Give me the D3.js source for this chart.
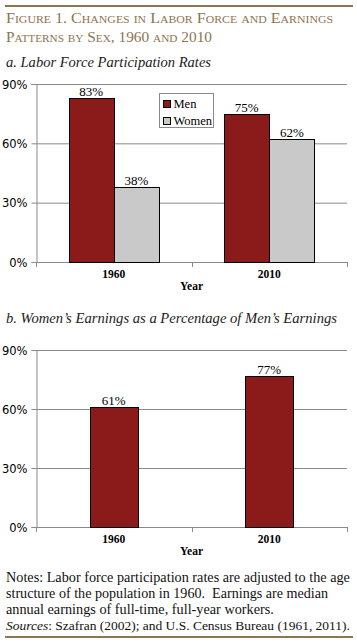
<!DOCTYPE html>
<html><head><meta charset="utf-8">
<script src="https://cdn.jsdelivr.net/npm/d3@7"></script>
<style>body{margin:0;background:#fff}svg{display:block}</style>
</head><body>
<svg id="c" width="357" height="642"></svg>
<script>
// ---- data ----
const years = ["1960", "2010"];
const series = ["Men", "Women"];
const menLFPR = [83, 75];
const womenLFPR = [38, 62];
const earningsRatio = [61, 77];
const yTicks = [0, 30, 60, 90];
const titleLines = ["Figure 1. Changes in Labor Force and Earnings", "Patterns by Sex, 1960 and 2010"];
const subA = "a. Labor Force Participation Rates";
const subB = "b. Women’s Earnings as a Percentage of Men’s Earnings";
const notes = [
  "Notes: Labor force participation rates are adjusted to the age",
  "structure of the population in 1960.  Earnings are median",
  "annual earnings of full-time, full-year workers."
];
const sourcesLabel = "Sources";
const sourcesText = ": Szafran (2002); and U.S. Census Bureau (1961, 2011).";

const svg = d3.select("#c");
const colors = {Men: "#8b1a1a", Women: "#c9c9c9"};
const titleColor = "#8c7550";
const serif = "'Liberation Serif', 'Times New Roman', serif";
const sans = "'DejaVu Sans', Tahoma, sans-serif";

// fit a text element to a target width by scaling its font size
function fit(sel, width) {
  const fs = +sel.attr("font-size");
  const w = sel.node().getComputedTextLength();
  if (w > 0) sel.attr("font-size", (fs * width / w).toFixed(2));
  return sel;
}

// rules
svg.append("line").attr("x1", 5).attr("x2", 353).attr("y1", 6).attr("y2", 6)
  .attr("stroke", titleColor).attr("stroke-width", 2);
svg.append("line").attr("x1", 5).attr("x2", 353).attr("y1", 637).attr("y2", 637)
  .attr("stroke", titleColor).attr("stroke-width", 2);

// title
const titleW = [327, 206];
titleLines.forEach((t, i) => {
  svg.append("text").attr("x", 6).attr("y", 23 + i * 19)
    .attr("font-family", serif).attr("font-size", 15).style("font-variant", "small-caps")
    .attr("fill", titleColor).attr("textLength", titleW[i]).attr("lengthAdjust", "spacingAndGlyphs")
    .text(t);
});
svg.append("text").attr("x", 6).attr("y", 67).attr("font-family", serif).attr("font-size", 15)
  .attr("font-style", "italic").attr("fill", "#222").attr("textLength", 205).attr("lengthAdjust", "spacingAndGlyphs").text(subA);
svg.append("text").attr("x", 6).attr("y", 323).attr("font-family", serif).attr("font-size", 15)
  .attr("font-style", "italic").attr("fill", "#222").attr("textLength", 331).attr("lengthAdjust", "spacingAndGlyphs").text(subB);

function drawChart(top, bottom, seriesData, groupFrac, legend) {
  const left = 36, right = 347;
  const x = d3.scaleBand().domain(years).range([left, right]).padding(0);
  const y = d3.scaleLinear().domain([0, 90]).range([bottom, top]);
  const g = svg.append("g");
  // gridlines
  g.selectAll(".grid").data(yTicks.filter(d => d > 0)).join("line")
    .attr("x1", left).attr("x2", right).attr("y1", d => y(d) + 0.5).attr("y2", d => y(d) + 0.5)
    .attr("stroke", "#8a8a8a").attr("stroke-width", 1);
  // y axis
  const ya = g.append("g").attr("transform", `translate(${left + 0.5},0)`)
    .call(d3.axisLeft(y).tickValues(yTicks).tickFormat(d => d + "%").tickSize(5).tickPadding(4));
  ya.select(".domain").attr("stroke", "#8a8a8a");
  ya.selectAll(".tick line").attr("stroke", "#8a8a8a");
  ya.selectAll("text").attr("font-family", sans).attr("font-size", 11.5).attr("fill", "#000").attr("dy", "0.35em");
  // x axis
  g.append("line").attr("x1", left).attr("x2", right).attr("y1", bottom + 0.5).attr("y2", bottom + 0.5).attr("stroke", "#8a8a8a");
  const bounds = [left, (left + right) / 2, right];
  g.selectAll(".xt").data(bounds).join("line")
    .attr("x1", d => Math.round(d) + 0.5).attr("x2", d => Math.round(d) + 0.5)
    .attr("y1", bottom).attr("y2", bottom + 5).attr("stroke", "#8a8a8a");
  g.selectAll(".xl").data(years).join("text")
    .attr("x", d => x(d) + x.bandwidth() / 2).attr("y", bottom + 16)
    .attr("text-anchor", "middle").attr("font-family", serif).attr("font-size", 11.5).attr("font-weight", "bold")
    .text(d => d);
  g.append("text").attr("x", (left + right) / 2).attr("y", bottom + 28).attr("text-anchor", "middle")
    .attr("font-family", serif).attr("font-size", 11.5).attr("font-weight", "bold").text("Year");
  // bars
  const keys = seriesData.map(s => s.key);
  const gw = x.bandwidth() * groupFrac;
  const x1 = d3.scaleBand().domain(keys).range([(x.bandwidth() - gw) / 2, (x.bandwidth() + gw) / 2]).padding(0);
  seriesData.forEach(s => {
    const bars = g.append("g");
    bars.selectAll("rect").data(s.values).join("rect")
      .attr("x", (d, i) => Math.round(x(years[i]) + x1(s.key)) + 0.5)
      .attr("y", d => Math.round(y(d)) + 0.5)
      .attr("width", Math.round(x1.bandwidth()))
      .attr("height", d => y(0) - Math.round(y(d)))
      .attr("fill", s.color).attr("stroke", "#000").attr("stroke-width", 1);
    bars.selectAll("text").data(s.values).join("text")
      .attr("x", (d, i) => x(years[i]) + x1(s.key) + x1.bandwidth() / 2)
      .attr("y", d => y(d) - 2).attr("text-anchor", "middle")
      .attr("font-family", serif).attr("font-size", 13).text(d => d + "%");
  });
  if (legend) {
    const lg = g.append("g").attr("transform", "translate(159.5,93.5)");
    lg.append("rect").attr("width", 54).attr("height", 34).attr("fill", "#fff").attr("stroke", "#8a8a8a");
    series.forEach((k, i) => {
      lg.append("rect").attr("x", 4).attr("y", 7 + i * 17).attr("width", 7).attr("height", 7)
        .attr("fill", colors[k]).attr("stroke", "#000");
      lg.append("text").attr("x", 14).attr("y", 14 + i * 17).attr("font-family", serif).attr("font-size", 12.5).text(k);
    });
  }
}

drawChart(84, 262, [
  {key: "Men", values: menLFPR, color: colors.Men},
  {key: "Women", values: womenLFPR, color: colors.Women}
], 0.58, true);

drawChart(350, 527, [
  {key: "Ratio", values: earningsRatio, color: colors.Men}
], 0.31, false);

// notes
const noteW = [344, 322, 268];
notes.forEach((t, i) => {
  const t1 = svg.append("text").attr("x", 6).attr("y", 582 + i * 16).attr("font-family", serif).attr("font-size", 14)
    .attr("fill", "#111").style("white-space", "pre").text(t);
  fit(t1, noteW[i]);
});
const src = svg.append("text").attr("x", 6).attr("y", 630).attr("font-family", serif).attr("font-size", 14)
  .attr("fill", "#111");
src.append("tspan").attr("font-style", "italic").text(sourcesLabel);
src.append("tspan").text(sourcesText);
fit(src, 344);
</script>
</body></html>
